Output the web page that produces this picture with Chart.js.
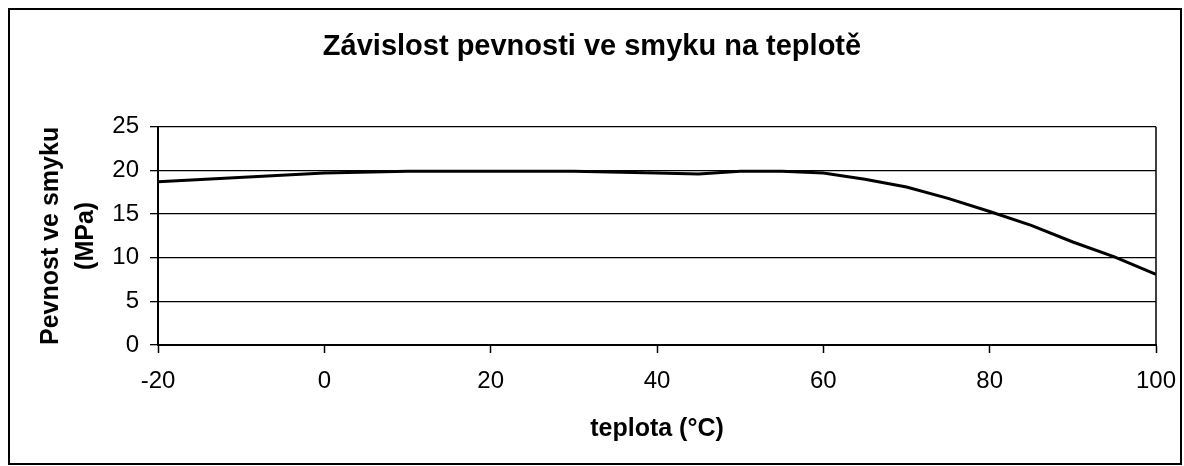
<!DOCTYPE html>
<html>
<head>
<meta charset="utf-8">
<script src="https://cdn.jsdelivr.net/npm/chart.js@4.4.1/dist/chart.umd.min.js"></script>
<style>
  html, body { margin: 0; padding: 0; background: #fff; }
  #wrap { width: 1184px; height: 466px; }
</style>
</head>
<body>
<div id="wrap"><canvas id="chart" width="1184" height="466"></canvas></div>
<script>
// data
const temps = [-20, 0, 10, 20, 30, 40, 45, 50, 55, 60, 65, 70, 75, 80, 85, 90, 95, 100];
const strength = [18.7, 19.7, 19.9, 19.9, 19.9, 19.7, 19.6, 19.9, 19.9, 19.7, 19.0, 18.1, 16.8, 15.3, 13.7, 11.8, 10.1, 8.1];
const xTicks = [-20, 0, 20, 40, 60, 80, 100];
const yTicks = [0, 5, 10, 15, 20, 25];

const FONT = "Arial, 'Liberation Sans', sans-serif";

// outer frame of the chart box
const framePlugin = {
  id: "frame",
  beforeDraw(chart) {
    const ctx = chart.ctx;
    ctx.save();
    ctx.fillStyle = "#fff";
    ctx.fillRect(0, 0, chart.width, chart.height);
    ctx.strokeStyle = "#000";
    ctx.lineWidth = 2;
    ctx.strokeRect(9, 9, 1172, 455);
    ctx.restore();
  },
  afterDatasetsDraw(chart) {
    // right edge of plot area
    const a = chart.chartArea;
    const ctx = chart.ctx;
    ctx.save();
    ctx.strokeStyle = "#000";
    ctx.lineWidth = 1.5;
    ctx.beginPath();
    ctx.moveTo(a.right, a.top);
    ctx.lineTo(a.right, a.bottom);
    ctx.stroke();
    ctx.restore();
  }
};

new Chart(document.getElementById("chart"), {
  type: "line",
  data: {
    datasets: [{
      data: temps.map((t, i) => ({ x: t, y: strength[i] })),
      borderColor: "#000",
      borderWidth: 3,
      pointRadius: 0,
      tension: 0,
      fill: false
    }]
  },
  options: {
    responsive: false,
    animation: false,
    layout: { padding: 0 },
    plugins: {
      legend: { display: false },
      tooltip: { enabled: false },
      title: {
        display: true,
        text: "Závislost pevnosti ve smyku na teplotě",
        color: "#000",
        font: { family: FONT, size: 29, weight: "bold" },
        padding: { top: 30, bottom: 62 }
      }
    },
    scales: {
      x: {
        type: "linear",
        min: -20,
        max: 100,
        afterBuildTicks: (s) => { s.ticks = xTicks.map(v => ({ value: v })); },
        afterFit: (s) => { s.height = 121; s.paddingLeft = 0; s.paddingRight = 28; },
        grid: { drawOnChartArea: false, color: "#000", tickLength: 8, tickWidth: 1.5 },
        border: { color: "#000", width: 2 },
        ticks: { color: "#000", font: { family: FONT, size: 24 }, padding: 14, maxRotation: 0 },
        title: {
          display: true,
          text: "teplota (°C)",
          color: "#000",
          font: { family: FONT, size: 25, weight: "bold" },
          padding: { top: 0, bottom: 22 }
        }
      },
      y: {
        min: 0,
        max: 25,
        afterBuildTicks: (s) => { s.ticks = yTicks.map(v => ({ value: v })); },
        afterFit: (s) => { s.width = 158; },
        grid: { color: "#000", lineWidth: 1.3, tickLength: 8 },
        border: { color: "#000", width: 2 },
        ticks: { color: "#000", font: { family: FONT, size: 24 }, padding: 11 },
        title: {
          display: true,
          text: ["Pevnost ve smyku", "(MPa)"],
          color: "#000",
          font: { family: FONT, size: 25, weight: "bold", lineHeight: 1.4 },
          padding: { top: 34, bottom: 0 }
        }
      }
    }
  },
  plugins: [framePlugin]
});
</script>
</body>
</html>
